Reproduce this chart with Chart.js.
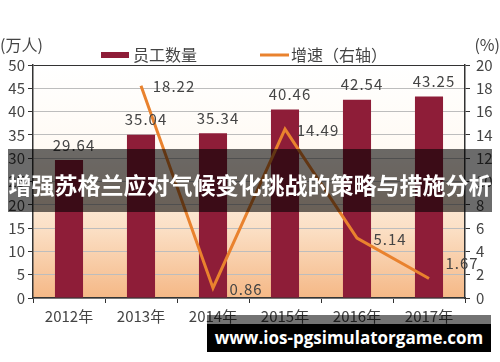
<!DOCTYPE html>
<html>
<head>
<meta charset="utf-8">
<script src="https://cdn.jsdelivr.net/npm/chart.js@4/dist/chart.umd.min.js"></script>
<style>
body { margin: 0; background: #fff; }
#wrap { position: relative; width: 500px; height: 362px; }
.band { position: absolute; left: 8px; top: 149px; width: 484px; height: 63px; background: rgba(0,0,0,0.58);
  color: #fff; font: bold 23px "Noto Sans CJK SC"; line-height: 70px; text-align: center; white-space: nowrap; overflow: hidden; }
.site-top { position: absolute; left: 207px; top: 315px; width: 284px; height: 9px; background: rgba(0,0,0,0.55); }
.site { position: absolute; left: 207px; top: 324px; width: 284px; height: 28px; background: #000;
  color: #fff; font: bold 17px "Open Sans"; line-height: 28px; text-align: center; }
</style>
</head>
<body>
<div id="wrap">
  <canvas id="c" width="500" height="362"></canvas>
  <div class="band">增强苏格兰应对气候变化挑战的策略与措施分析</div>
  <div class="site-top"></div>
  <div class="site">www.ios-pgsimulatorgame.com</div>
</div>
<script>
const years = ['2012年', '2013年', '2014年', '2015年', '2016年', '2017年'];
const staff = [29.64, 35.04, 35.34, 40.46, 42.54, 43.25];
const growth = [null, 18.22, 0.86, 14.49, 5.14, 1.67];

const barColor = '#8e1d38';
const lineColor = '#e9822e';
const textColor = '#444';
const font = '"Noto Sans CJK SC", "Noto Sans", sans-serif';

// peach gradient behind the bars
const bgPlugin = {
  id: 'bg',
  beforeDraw(chart) {
    const a = chart.chartArea, ctx = chart.ctx;
    const g = ctx.createLinearGradient(0, a.top, 0, a.bottom);
    g.addColorStop(0, '#ffffff');
    g.addColorStop(0.35, '#fffaf4');
    g.addColorStop(0.7, '#fbe0c6');
    g.addColorStop(1, '#f5b886');
    ctx.save();
    ctx.fillStyle = g;
    ctx.fillRect(a.left, a.top, a.right - a.left, a.bottom - a.top);
    ctx.restore();
  }
};

const labelPlugin = {
  id: 'labels',
  afterDatasetsDraw(chart) {
    const ctx = chart.ctx;
    ctx.save();
    ctx.font = '15px ' + font;
    ctx.letterSpacing = '1px';
    ctx.fillStyle = textColor;
    ctx.textAlign = 'center';
    ctx.textBaseline = 'middle';
    chart.getDatasetMeta(1).data.forEach((bar, i) => {
      ctx.fillText(staff[i].toFixed(2), bar.x + 5, bar.y - 15);
    });
    const pts = chart.getDatasetMeta(0).data;
    pts.forEach((p, i) => {
      if (growth[i] === null) return;
      const dy = i === pts.length - 1 ? -15 : 1;
      ctx.fillText(growth[i].toFixed(2), p.x + 33, p.y + dy);
    });

    // legend and axis titles
    ctx.letterSpacing = '0px';
    ctx.font = '16px ' + font;
    ctx.textAlign = 'left';
    ctx.fillStyle = barColor;
    ctx.fillRect(101, 52, 28, 6);
    ctx.fillStyle = textColor;
    ctx.fillText('员工数量', 133, 55);
    ctx.strokeStyle = lineColor;
    ctx.lineWidth = 3;
    ctx.beginPath();
    ctx.moveTo(260, 55);
    ctx.lineTo(289, 55);
    ctx.stroke();
    ctx.fillText('增速（右轴）', 291, 55);
    ctx.fillText('(万人)', 0, 45);
    ctx.textAlign = 'right';
    ctx.fillText('(%)', 500, 45);
    ctx.restore();
  }
};

new Chart(document.getElementById('c'), {
  data: {
    labels: years,
    datasets: [
      {
        type: 'line',
        label: '增速（右轴）',
        data: growth,
        yAxisID: 'y1',
        borderColor: lineColor,
        borderWidth: 3,
        pointRadius: 0,
        tension: 0,
        order: 0
      },
      {
        type: 'bar',
        label: '员工数量',
        data: staff,
        yAxisID: 'y',
        backgroundColor: barColor,
        categoryPercentage: 1,
        barPercentage: 0.39,
        order: 1
      }
    ]
  },
  options: {
    responsive: false,
    animation: false,
    layout: { padding: { top: 65, left: 0, right: 0, bottom: 0 } },
    plugins: { legend: { display: false }, tooltip: { enabled: false } },
    scales: {
      x: {
        afterFit(s) { s.height = 64; },
        grid: { offset: true, drawOnChartArea: false, color: '#333', tickLength: 5 },
        border: { color: '#333', width: 1.5 },
        ticks: { color: textColor, font: { family: font, size: 15 }, padding: 4 }
      },
      y: {
        position: 'left',
        min: 0, max: 50,
        afterFit(s) { s.width = 33; },
        grid: {
          color: ctx => ctx.tick.value === 50 ? '#333' : '#bdbdbd',
          tickColor: '#333',
          tickLength: 5
        },
        border: { color: '#333', width: 1.5 },
        ticks: { stepSize: 5, color: textColor, font: { family: font, size: 15 }, padding: 3 }
      },
      y1: {
        position: 'right',
        min: 0, max: 20,
        afterFit(s) { s.width = 35; },
        grid: { drawOnChartArea: false, color: '#333', tickLength: 5 },
        border: { color: '#333', width: 1.5 },
        ticks: { stepSize: 2, color: textColor, font: { family: font, size: 15 }, padding: 6 }
      }
    }
  },
  plugins: [bgPlugin, labelPlugin]
});
</script>
</body>
</html>
